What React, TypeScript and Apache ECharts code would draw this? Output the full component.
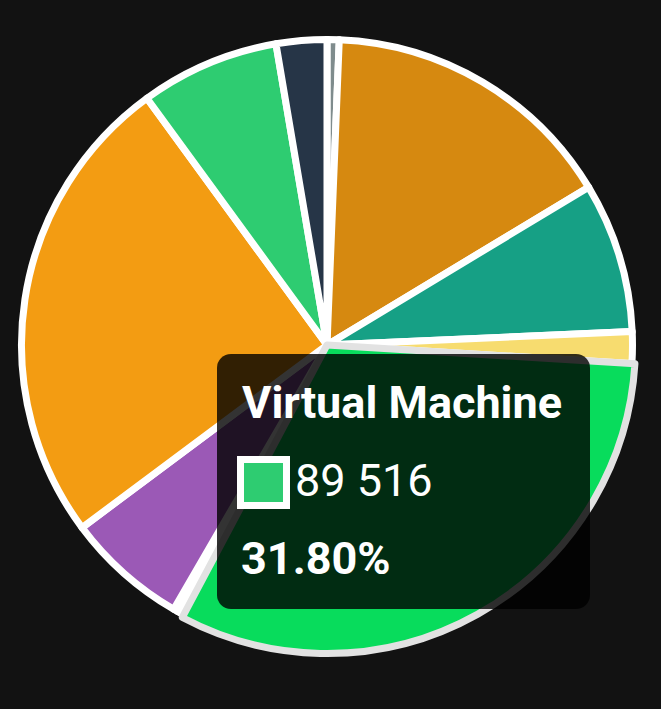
import React, { useEffect, useRef } from "react";
import * as echarts from "echarts";

const categories = [
  "Monitoring",
  "Compute Engine",
  "Storage",
  "Networking",
  "Virtual Machine",
  "Logging",
  "DNS",
  "Secrets",
  "Kubernetes",
  "Database",
  "Backup",
  "Load Balancer",
];
const values = [1800, 44250, 22350, 4700, 89516, 600, 500, 580, 18130, 70831, 20720, 7520];
const colors = [
  "#7f8c8d",
  "#d68910",
  "#16a085",
  "#f7dc6f",
  "#2ecc71",
  "#1abc9c",
  "#95a5a6",
  "#5d6d7e",
  "#9b59b6",
  "#f39c12",
  "#2ecc71",
  "#263547",
];
const highlighted = "Virtual Machine";

export default function App() {
  const ref = useRef<HTMLDivElement>(null);
  useEffect(() => {
    if (!ref.current) return;
    const chart = echarts.init(ref.current, undefined, { renderer: "svg" });
    const total = values.reduce((a, b) => a + b, 0);
    const hi = categories.indexOf(highlighted);
    const hiVal = values[hi];
    const pct = ((hiVal / total) * 100).toFixed(2) + "%";
    const valText = String(hiVal).replace(/\B(?=(\d{3})+(?!\d))/g, " ");
    const data = categories.map((name, i) => ({
      name,
      value: values[i],
      itemStyle: { color: colors[i] },
      emphasis:
        i === hi
          ? { itemStyle: { color: "#08dc5c", borderColor: "#e2e2e2" } }
          : undefined,
    }));
    chart.setOption({
      animation: false,
      backgroundColor: "#121212",
      series: [
        {
          type: "pie",
          center: [327, 345],
          radius: [0, 305.5],
          startAngle: 90,
          clockwise: true,
          data,
          label: { show: false },
          labelLine: { show: false },
          itemStyle: { borderColor: "#ffffff", borderWidth: 7 },
          emphasis: { scale: true, scaleSize: 3, label: { show: false } },
        },
      ],
      graphic: [
        {
          type: "group",
          z: 100,
          children: [
            {
              type: "rect",
              shape: { x: 217, y: 354, width: 373, height: 255, r: 14 },
              style: { fill: "rgba(0,0,0,0.8)" },
              z: 100,
            },
            {
              type: "text",
              x: 242,
              y: 402,
              z: 101,
              style: {
                text: highlighted,
                fill: "#ffffff",
                font: "bold 45px Roboto",
                verticalAlign: "middle",
                align: "left",
              },
            },
            {
              type: "rect",
              shape: { x: 240.5, y: 459.5, width: 46, height: 46 },
              style: { fill: colors[hi], stroke: "#ffffff", lineWidth: 7 },
              z: 101,
            },
            {
              type: "text",
              x: 295,
              y: 480,
              z: 101,
              style: {
                text: valText,
                fill: "#ffffff",
                font: "normal 45px Roboto",
                verticalAlign: "middle",
                align: "left",
              },
            },
            {
              type: "text",
              x: 241,
              y: 558,
              z: 101,
              style: {
                text: pct,
                fill: "#ffffff",
                font: "bold 45px Roboto",
                verticalAlign: "middle",
                align: "left",
              },
            },
          ],
        },
      ],
    });
    chart.dispatchAction({ type: "highlight", seriesIndex: 0, dataIndex: hi });
    return () => chart.dispose();
  }, []);
  return (
    <div
      ref={ref}
      style={{
        position: "fixed",
        left: 0,
        top: 0,
        width: 661,
        height: 709,
        background: "#121212",
      }}
    />
  );
}
